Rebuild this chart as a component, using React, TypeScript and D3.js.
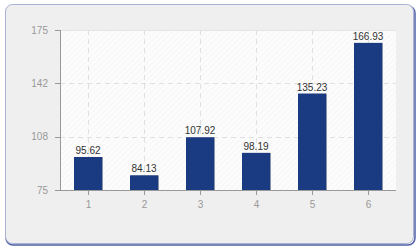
import React from "react";
import * as d3 from "d3";

const categories = ["1", "2", "3", "4", "5", "6"];
const values = [95.62, 84.13, 107.92, 98.19, 135.23, 166.93];
const yMin = 75;
const yMax = 175;
const yTicks = [75, 108.33, 141.67, 175];

export default function App() {
  const W = 420, H = 250;
  const left = 60, right = 396, top = 30, bottom = 190;
  const x = d3.scaleBand<string>().domain(categories).range([left, right]).paddingInner(0).paddingOuter(0);
  const y = d3.scaleLinear().domain([yMin, yMax]).range([bottom, top]);
  const bw = x.bandwidth() / 2;
  const font = "'Liberation Sans', Arial, sans-serif";
  return (
    <svg width={W} height={H} style={{ position: "absolute", left: 0, top: 0 }} fontFamily={font}>
      <defs>
        <pattern id="hatch" width="4" height="4" patternUnits="userSpaceOnUse" patternTransform="rotate(45)">
          <rect width="4" height="4" fill="#fcfcfc" />
          <line x1="0" y1="0" x2="0" y2="4" stroke="#f0f0f0" strokeWidth="1" />
        </pattern>
      </defs>
      <rect x={0} y={0} width={W} height={H} fill="#ffffff" />
      <rect x={6} y={6} width={409} height={239} rx={7} ry={7} fill="none" stroke="#4e5fa5" strokeWidth={1.5} />
      <rect x={5.5} y={4.5} width={408} height={239} rx={7} ry={7} fill="#efefef" stroke="#a9b2d2" strokeWidth={1} />
      <rect x={left} y={top} width={right - left} height={bottom - top} fill="url(#hatch)" />
      <line x1={left} x2={right} y1={top + 0.5} y2={top + 0.5} stroke="#e4e4e4" />
      {yTicks.slice(1, 3).map((t) => (
        <line key={t} x1={left} x2={right} y1={Math.round(y(t)) + 0.5} y2={Math.round(y(t)) + 0.5}
          stroke="#e0e0e0" strokeDasharray="5,4" />
      ))}
      {categories.map((c) => {
        const cx = Math.round((x(c) as number) + x.bandwidth() / 2) + 0.5;
        return <line key={c} x1={cx} x2={cx} y1={top} y2={bottom} stroke="#e0e0e0" strokeDasharray="5,4" />;
      })}
      {categories.map((c, i) => {
        const bx = (x(c) as number) + x.bandwidth() / 4;
        const by = y(values[i]);
        return (
          <g key={c}>
            <rect x={bx + 1} y={by} width={bw} height={bottom - by} fill="#8a94a8" />
            <rect x={bx} y={by} width={bw} height={bottom - by} fill="#1a3a82" />
            <text x={bx + bw / 2} y={by - 3} textAnchor="middle" fontSize={10} fill="#333">{values[i].toFixed(2)}</text>
          </g>
        );
      })}
      <line x1={left + 0.5} x2={left + 0.5} y1={top} y2={bottom} stroke="#999" />
      <line x1={left} x2={right} y1={bottom + 0.5} y2={bottom + 0.5} stroke="#999" />
      {yTicks.map((t) => (
        <g key={t}>
          <line x1={left - 5} x2={left} y1={Math.round(y(t)) + 0.5} y2={Math.round(y(t)) + 0.5} stroke="#999" />
          <text x={left - 12} y={y(t)} dy="0.35em" textAnchor="end" fontSize={10} fill="#999">{Math.round(t)}</text>
        </g>
      ))}
      {categories.map((c) => {
        const cx = Math.round((x(c) as number) + x.bandwidth() / 2) + 0.5;
        return (
          <g key={c}>
            <line x1={cx} x2={cx} y1={bottom} y2={bottom + 5} stroke="#999" />
            <text x={cx} y={204} dy="0.35em" textAnchor="middle" fontSize={10} fill="#999">{c}</text>
          </g>
        );
      })}
    </svg>
  );
}
